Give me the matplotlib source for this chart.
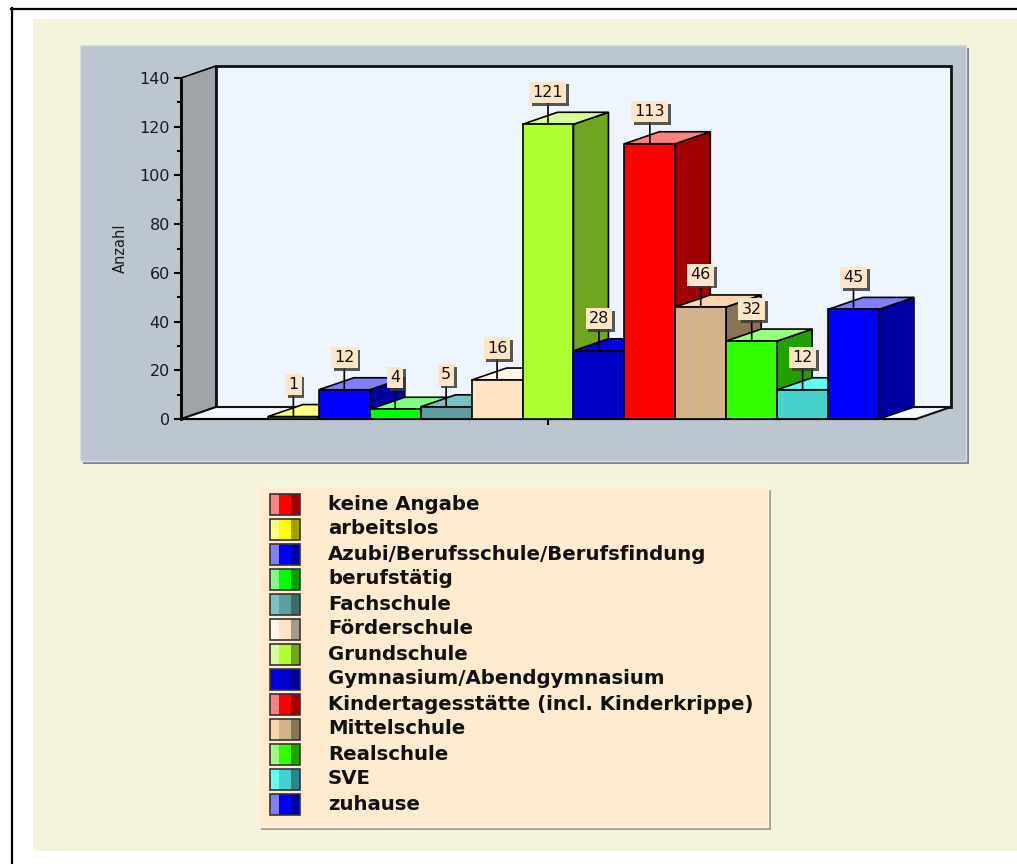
import matplotlib
matplotlib.use('Agg')
import matplotlib.pyplot as plt
from matplotlib.patches import Rectangle, Polygon
from matplotlib.lines import Line2D
import matplotlib.patheffects as pe

# ---------------- data ----------------
categories = ['keine Angabe', 'arbeitslos', 'Azubi/Berufsschule/Berufsfindung',
              'berufstätig', 'Fachschule', 'Förderschule', 'Grundschule',
              'Gymnasium/Abendgymnasium', 'Kindertagesstätte (incl. Kinderkrippe)',
              'Mittelschule', 'Realschule', 'SVE', 'zuhause']
values = [0, 1, 12, 4, 5, 16, 121, 28, 113, 46, 32, 12, 45]
front_colors = ['#FF0000', '#FFFF00', '#0000FF', '#00FF00', '#5F9EA0', '#FFE4C4',
                '#ADFF2F', '#0000C8', '#FF0000', '#D2B48C', '#33FF00', '#48D1CC', '#0000FF']
top_colors = ['#FF8080', '#FFFF80', '#8080FF', '#80FF80', '#77C2C5', '#FFF4E8',
              '#D6FF97', '#0000E8', '#FF8080', '#FCD6A6', '#99FF80', '#5FFFF5', '#8080FF']
side_colors = ['#A00000', '#A0A000', '#0000A0', '#00A000', '#3F6B6C', '#A89A8A',
               '#6FA51F', '#000090', '#A00000', '#8A7456', '#22A000', '#2E8585', '#0000A0']
y_ticks = [0, 20, 40, 60, 80, 100, 120, 140]
y_label = 'Anzahl'

plt.rcParams['font.family'] = ['DejaVu Sans']

W, H = 1017, 864
fig = plt.figure(figsize=(W / 100, H / 100), dpi=100)
fig.patch.set_facecolor('white')


def px_rect(x0, y0, x1, y1, **kw):
    r = Rectangle((x0 / W, 1 - y1 / H), (x1 - x0) / W, (y1 - y0) / H,
                  transform=fig.transFigure, **kw)
    fig.add_artist(r)
    return r


# outer frame
fig.add_artist(Line2D([11.5 / W, 11.5 / W], [0, 1 - 8 / H], transform=fig.transFigure,
                      color='black', lw=1.6, zorder=-5))
fig.add_artist(Line2D([11 / W, 1], [1 - 8.5 / H, 1 - 8.5 / H], transform=fig.transFigure,
                      color='black', lw=1.6, zorder=-5))
px_rect(33, 19, 1017, 851, fc='#F4F3DC', ec='none', zorder=-4)

# chart panel
px_rect(83, 48, 969, 464, fc='#7F878E', ec='none', zorder=-3)
px_rect(80, 45, 966, 461, fc='#BCC6D0', ec='#D8DFE6', lw=1, zorder=-2)

# legend box
px_rect(261, 490, 771, 830, fc='#A89C8C', ec='none', zorder=-3)
px_rect(258, 487, 768, 827, fc='#FFEBCF', ec='#FFF4E4', lw=1, zorder=-2)

# ---------------- chart axes ----------------
ax = fig.add_axes([181 / W, 1 - 419 / H, (916 - 181) / W, (419 - 78) / H])
ax.set_facecolor('none')
ymax = 140
ax.set_ylim(0, ymax)
ax.set_xlim(-1.207, 13.227)

# depth offsets in data units (35 px right, 12 px up)
bar_px = (916 - 181) / (13.227 + 1.207)
dx = 35 / bar_px
dy = 12 / ((419 - 78) / ymax)
x0, x1 = ax.get_xlim()

# walls and floor
ax.add_patch(Polygon([(x0, 0), (x0 + dx, dy), (x0 + dx, ymax + dy), (x0, ymax)],
                     closed=True, fc='#A0A4A8', ec='black', lw=1.2, clip_on=False, zorder=1))
ax.add_patch(Rectangle((x0 + dx, dy), x1 - x0, ymax, fc='#EEF5FE', ec='#111111', lw=2,
                       clip_on=False, zorder=1))
ax.add_patch(Polygon([(x0, 0), (x1, 0), (x1 + dx, dy), (x0 + dx, dy)], closed=True,
                     fc='#F6F9FE', ec='#111111', lw=1.5, clip_on=False, zorder=1.1))

# bars
for i, v in enumerate(values):
    if v <= 0:
        continue
    xl, xr = i - 0.5, i + 0.5
    z = 3 + i * 0.01
    ax.add_patch(Polygon([(xr, 0), (xr + dx, dy), (xr + dx, v + dy), (xr, v)], closed=True,
                         fc=side_colors[i], ec='black', lw=1.2, clip_on=False, zorder=z))
    ax.add_patch(Polygon([(xl, v), (xr, v), (xr + dx, v + dy), (xl + dx, v + dy)], closed=True,
                         fc=top_colors[i], ec='black', lw=1.2, clip_on=False, zorder=z + 0.001))
    ax.add_patch(Rectangle((xl, 0), 1, v, fc=front_colors[i], ec='black', lw=1.2,
                           clip_on=False, zorder=z + 0.002))

# value labels
for i, v in enumerate(values):
    if v <= 0:
        continue
    t = ax.annotate(str(v), xy=(i, v), xytext=(0, 32), textcoords='offset pixels',
                    ha='center', va='center', fontsize=11.5, color='#111111',
                    bbox=dict(boxstyle='square,pad=0.2', fc='#FDE6C8', ec='none'),
                    arrowprops=dict(arrowstyle='-', color='black', lw=1.2,
                                    shrinkA=0, shrinkB=0),
                    zorder=10, annotation_clip=False)
    t.get_bbox_patch().set_path_effects([
        pe.SimplePatchShadow(offset=(2, -2), shadow_rgbFace='#3A3A3A', alpha=0.85),
        pe.Normal()])

# axes styling
for s in ['top', 'right']:
    ax.spines[s].set_visible(False)
ax.spines['left'].set_linewidth(2)
ax.spines['bottom'].set_linewidth(1.5)
ax.spines['left'].set_zorder(2)
ax.spines['bottom'].set_zorder(2)
ax.set_yticks(y_ticks)
ax.set_yticks(range(10, ymax, 20), minor=True)
ax.tick_params(axis='y', which='major', length=5, width=1.5, labelsize=11.5,
               labelcolor='#1A1A1A', pad=3)
ax.tick_params(axis='y', which='minor', length=3, width=1.5)
ax.set_xticks([6])
ax.set_xticklabels([''])
ax.tick_params(axis='x', length=4, width=1.5)
ax.set_ylabel(y_label, fontsize=10.5, color='#1A1A1A')
ax.yaxis.set_label_coords(-0.072, 0.5)

# ---------------- legend ----------------
lax = fig.add_axes([258 / W, 1 - 827 / H, (768 - 258) / W, (827 - 487) / H])
lax.set_xlim(0, 510)
lax.set_ylim(340, 0)
lax.axis('off')
for i, name in enumerate(categories):
    yc = 17 + 25 * i
    lax.add_patch(Rectangle((12, yc - 10.5), 9, 21, fc=top_colors[i], ec='none'))
    lax.add_patch(Rectangle((21, yc - 10.5), 12, 21, fc=front_colors[i], ec='none'))
    lax.add_patch(Rectangle((33, yc - 10.5), 9, 21, fc=side_colors[i], ec='none'))
    lax.add_patch(Rectangle((12, yc - 10.5), 30, 21, fc='none', ec='#333333', lw=1.2))
    lax.text(70, yc, name, ha='left', va='center', fontsize=14.2, fontweight='bold',
             color='#111111')

fig.savefig('out.png', dpi=100)
